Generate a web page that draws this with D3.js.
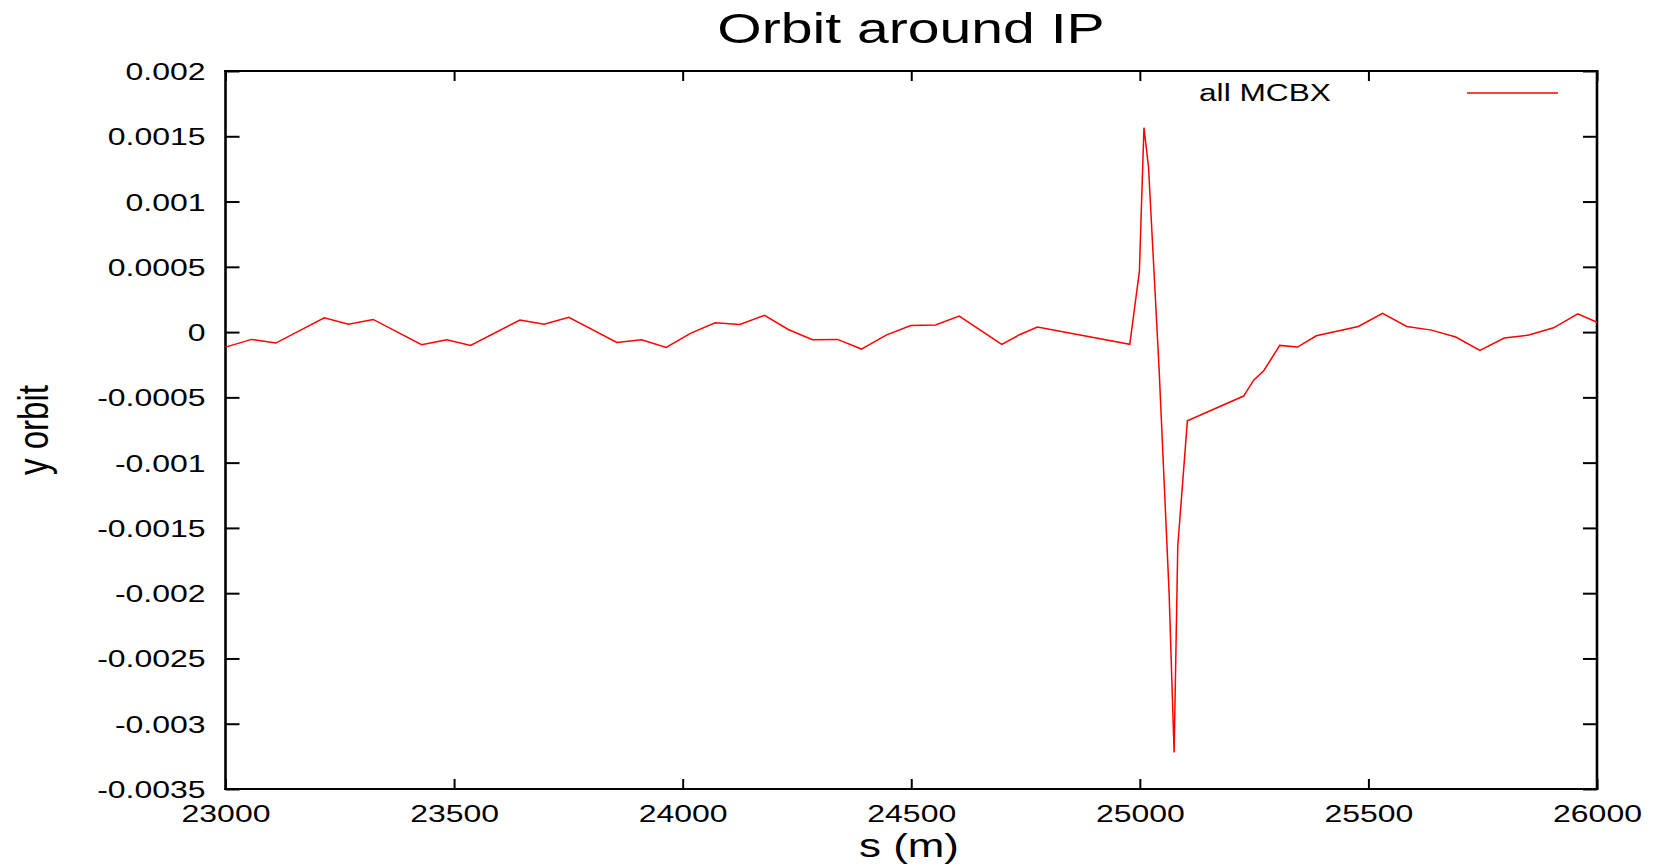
<!DOCTYPE html>
<html>
<head>
<meta charset="utf-8">
<script src="https://cdn.jsdelivr.net/npm/d3@7"></script>
<style>
  html, body { margin: 0; padding: 0; background: #fff; }
  text { font-family: "Liberation Sans", Arial, Helvetica, sans-serif; fill: #000; }
</style>
</head>
<body>
<div id="chart"></div>
<script>
const width = 1668;
const height = 868;
const plot = { left: 225.5, right: 1597, top: 71, bottom: 789 };
const stretch = 1.36; // glyphs in the original are wider than tall

// s positions (m) and vertical orbit values
const sPos = [
  23000, 23057, 23110, 23216, 23269, 23323, 23429, 23484, 23536, 23644,
  23697, 23751, 23856, 23910, 23964, 24017, 24071, 24125, 24179, 24231,
  24284, 24339, 24391, 24445, 24499, 24553, 24605, 24698, 24738, 24776,
  24978, 24999, 25009, 25019, 25042, 25064, 25075, 25083, 25104, 25227,
  25249, 25271, 25306, 25345, 25386, 25478, 25531, 25584, 25638, 25691,
  25744, 25797, 25851, 25905, 25958, 26000
];
const yOrbit = [
  -0.000115, -0.000056, -0.000084, 0.000110, 0.000061, 0.000097, -0.000097, -0.000059, -0.000102, 0.000092,
  0.000061, 0.000113, -0.000079, -0.000059, -0.000117, -0.000010, 0.000071, 0.000059, 0.000128, 0.000020,
  -0.000059, -0.000056, -0.000130, -0.000023, 0.000051, 0.000054, 0.000123, -0.000094, -0.000018, 0.000038,
  -0.000094, 0.000463, 0.001566, 0.001265, -0.000272, -0.001997, -0.003220, -0.001638, -0.000680, -0.000490,
  -0.000368, -0.000296, -0.000102, -0.000115, -0.000028, 0.000043, 0.000143, 0.000043, 0.000015, -0.000038,
  -0.000140, -0.000046, -0.000023, 0.000033, 0.000140, 0.000075
];

const xTicks = [23000, 23500, 24000, 24500, 25000, 25500, 26000];
const yTicks = [0.002, 0.0015, 0.001, 0.0005, 0, -0.0005, -0.001, -0.0015, -0.002, -0.0025, -0.003, -0.0035];
const yTickLabels = ["0.002", "0.0015", "0.001", "0.0005", "0", "-0.0005", "-0.001", "-0.0015", "-0.002", "-0.0025", "-0.003", "-0.0035"];

const data = sPos.map((s, i) => ({ s: s, y: yOrbit[i] }));

const svg = d3.select("#chart").append("svg")
    .attr("width", width)
    .attr("height", height);

const x = d3.scaleLinear().domain([23000, 26000]).range([plot.left, plot.right]);
const y = d3.scaleLinear().domain([-0.0035, 0.002]).range([plot.bottom, plot.top]);

// bottom axis, ticks point inward
const gx = svg.append("g")
    .attr("transform", `translate(0,${plot.bottom})`)
    .call(d3.axisBottom(x).tickValues(xTicks).tickFormat(d3.format("d")).tickSizeInner(-10).tickSizeOuter(0));
gx.selectAll(".tick text")
    .attr("y", 33).attr("dy", null)
    .attr("transform", `scale(${stretch},1)`)
    .style("font-size", "23.5px");

svg.append("g")
    .attr("transform", `translate(0,${plot.top})`)
    .call(d3.axisTop(x).tickValues(xTicks).tickFormat("").tickSizeInner(-10).tickSizeOuter(0));

// left axis
const gy = svg.append("g")
    .attr("transform", `translate(${plot.left},0)`)
    .call(d3.axisLeft(y).tickValues(yTicks).tickFormat((d, i) => yTickLabels[i]).tickSizeInner(-14).tickSizeOuter(0));
gy.selectAll(".tick text")
    .attr("x", -20 / stretch)
    .attr("dy", "0.36em")
    .attr("transform", `scale(${stretch},1)`)
    .style("font-size", "23.5px");

svg.append("g")
    .attr("transform", `translate(${plot.right},0)`)
    .call(d3.axisRight(y).tickValues(yTicks).tickFormat("").tickSizeInner(-14).tickSizeOuter(0));

svg.selectAll(".domain").remove();
svg.selectAll(".tick line").attr("stroke", "#000").attr("stroke-width", 2);

// frame
svg.append("line").attr("x1", plot.left - 1.3).attr("x2", plot.right + 1.3).attr("y1", plot.top).attr("y2", plot.top)
    .attr("stroke", "#000").attr("stroke-width", 2);
svg.append("line").attr("x1", plot.left - 1.3).attr("x2", plot.right + 1.3).attr("y1", plot.bottom).attr("y2", plot.bottom)
    .attr("stroke", "#000").attr("stroke-width", 2);
svg.append("line").attr("x1", plot.left).attr("x2", plot.left).attr("y1", plot.top - 1).attr("y2", plot.bottom + 1)
    .attr("stroke", "#000").attr("stroke-width", 2.6);
svg.append("line").attr("x1", plot.right).attr("x2", plot.right).attr("y1", plot.top - 1).attr("y2", plot.bottom + 1)
    .attr("stroke", "#000").attr("stroke-width", 2.6);

// orbit line
const line = d3.line().x(d => x(d.s)).y(d => y(d.y));
svg.append("path")
    .datum(data)
    .attr("d", line)
    .attr("fill", "none")
    .attr("stroke", "#ff0000")
    .attr("stroke-width", 1.5)
    .attr("stroke-linejoin", "miter");

// legend
svg.append("text")
    .attr("text-anchor", "end")
    .attr("transform", `translate(1331,101) scale(1.32,1)`)
    .style("font-size", "24px")
    .text("all MCBX");
svg.append("line")
    .attr("x1", 1467).attr("x2", 1558).attr("y1", 93).attr("y2", 93)
    .attr("stroke", "#ff0000").attr("stroke-width", 1.5);

// title and axis labels
svg.append("text")
    .attr("text-anchor", "middle")
    .attr("transform", `translate(911,43) scale(1.36,1)`)
    .style("font-size", "42px")
    .text("Orbit around IP");

svg.append("text")
    .attr("text-anchor", "middle")
    .attr("transform", `translate(909,857) scale(1.33,1)`)
    .style("font-size", "33px")
    .text("s (m)");

svg.append("text")
    .attr("text-anchor", "middle")
    .attr("transform", `translate(48,430) scale(1.3,1) rotate(-90)`)
    .style("font-size", "33px")
    .text("y orbit");
</script>
</body>
</html>
